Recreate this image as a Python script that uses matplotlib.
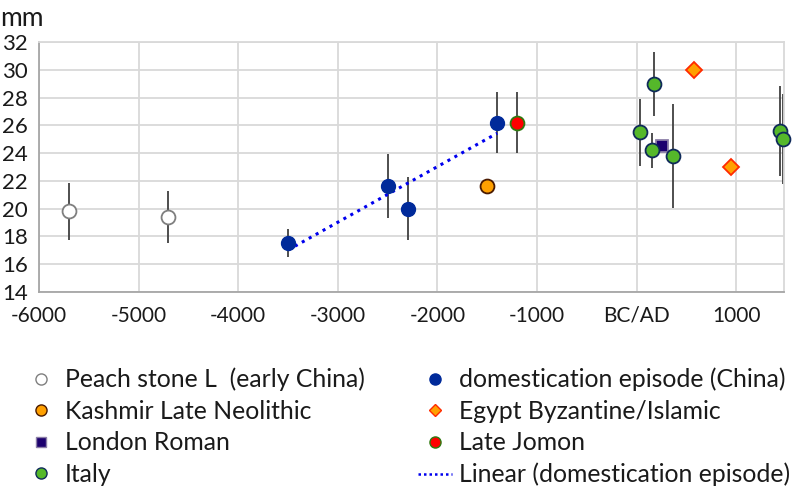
import matplotlib
matplotlib.use('Agg')
import matplotlib.pyplot as plt
from matplotlib.lines import Line2D
import numpy as np

# data (x = year, y = mm, e = +/- error)
peach_x = [-5700, -4700]
peach_y = [19.8, 19.4]
peach_e = [2.05, 1.9]

dom_x = [-3500, -2500, -2300, -1400]
dom_y = [17.5, 21.6, 20.0, 26.2]
dom_e = [1.0, 2.3, 2.25, 2.2]

kashmir_x = [-1500]
kashmir_y = [21.6]

egypt_x = [575, 950]
egypt_y = [30.0, 23.0]

london_x = [250]
london_y = [24.5]

jomon_x = [-1200]
jomon_y = [26.2]
jomon_e = [2.2]

italy_x = [30, 175, 150, 360, 1440, 1470]
italy_y = [25.5, 29.0, 24.2, 23.8, 25.6, 25.0]
italy_e = [2.4, 2.3, 1.25, 3.75, 3.25, 3.25]

xticks = [-6000, -5000, -4000, -3000, -2000, -1000, 0, 1000]
xtick_labels = ['-6000', '-5000', '-4000', '-3000', '-2000', '-1000', 'BC/AD', '1000']
yticks = [14, 16, 18, 20, 22, 24, 26, 28, 30, 32]

FONT = ['Lato', 'DejaVu Sans']
TEXT = '#1a1a1a'
ERR = '#404040'
GRID = '#d9d9d9'

fig = plt.figure(figsize=(7.92, 4.97), dpi=100)
ax = fig.add_axes([0.0492, 0.4125, 0.9408, 0.503])

ax.set_xlim(-6000, 1480)
ax.set_ylim(14, 32)
ax.set_xticks(xticks)
ax.set_xticklabels(xtick_labels, family=FONT, fontsize=15)
ax.set_yticks(yticks)
ax.set_yticklabels([str(v) for v in yticks], family=FONT, fontsize=16)
ax.tick_params(axis='x', length=0, pad=10, colors=TEXT)
ax.tick_params(axis='y', length=0, pad=8, colors=TEXT)
ax.grid(True, color=GRID, lw=1.3)
ax.set_axisbelow(True)
for side in ['top', 'right']:
    ax.spines[side].set_color(GRID)
    ax.spines[side].set_linewidth(1.3)
for side in ['left', 'bottom']:
    ax.spines[side].set_color('#a6a6a6')
    ax.spines[side].set_linewidth(1.3)

ekw = dict(ecolor=ERR, elinewidth=1.3, capsize=0, linestyle='none', zorder=2)

# error bars first
ax.errorbar(peach_x, peach_y, yerr=peach_e, fmt='none', **ekw)
ax.errorbar(dom_x, dom_y, yerr=dom_e, fmt='none', **ekw)
ax.errorbar(jomon_x, jomon_y, yerr=jomon_e, fmt='none', **ekw)
ax.errorbar(italy_x, italy_y, yerr=italy_e, fmt='none', **ekw)

# linear trend of the domestication episode
coef = np.polyfit(dom_x, dom_y, 1)
tx = np.array([min(dom_x), max(dom_x)])
ax.plot(tx, np.polyval(coef, tx), color='#0000ee', lw=2.2, ls=(0, (1, 1.6)), zorder=3)

ax.plot(peach_x, peach_y, 'o', ms=10, mfc='white', mec='#7f7f7f', mew=1.3, ls='none', zorder=4)
ax.plot(dom_x, dom_y, 'o', ms=10, mfc='#002a9a', mec='#002a9a', mew=1, ls='none', zorder=4)
ax.plot(kashmir_x, kashmir_y, 'o', ms=10, mfc='#ffa000', mec='#4a1a00', mew=1.3, ls='none', zorder=4)
ax.plot(egypt_x, egypt_y, 'D', ms=8, mfc='#ffa000', mec='#ff2a00', mew=1.3, ls='none', zorder=4)
ax.plot(london_x, london_y, 's', ms=9, mfc='#1c006e', mec='#8c7fa8', mew=1.3, ls='none', zorder=4)
ax.plot(jomon_x, jomon_y, 'o', ms=10, mfc='#ff0000', mec='#2f7a10', mew=1.3, ls='none', zorder=4)
ax.plot(italy_x, italy_y, 'o', ms=10, mfc='#55b82a', mec='#0f2a5a', mew=1.3, ls='none', zorder=5, clip_on=False)

fig.text(0.0, 0.962, 'mm', family=FONT, fontsize=19, ha='left', va='center', color=TEXT)

# legend
handles = [
    Line2D([], [], marker='o', ms=8, mfc='white', mec='#7f7f7f', mew=1, ls='none'),
    Line2D([], [], marker='o', ms=8, mfc='#ffa000', mec='#4a1a00', mew=1, ls='none'),
    Line2D([], [], marker='s', ms=7.5, mfc='#1c006e', mec='#8c7fa8', mew=1, ls='none'),
    Line2D([], [], marker='o', ms=8, mfc='#55b82a', mec='#0f2a5a', mew=1, ls='none'),
    Line2D([], [], marker='o', ms=8, mfc='#002a9a', mec='#002a9a', mew=1, ls='none'),
    Line2D([], [], marker='D', ms=6.5, mfc='#ffa000', mec='#ff2a00', mew=1, ls='none'),
    Line2D([], [], marker='o', ms=8, mfc='#ff0000', mec='#2f7a10', mew=1, ls='none'),
    Line2D([], [], color='#0000ee', lw=1.8, ls=(0, (1, 1.2))),
]
labels = ['Peach stone L  (early China)', 'Kashmir Late Neolithic', 'London Roman', 'Italy',
          'domestication episode (China)', 'Egypt Byzantine/Islamic', 'Late Jomon',
          'Linear (domestication episode)']
fig.legend(handles, labels, ncol=2, loc='upper left', bbox_to_anchor=(0.0295, 0.26),
           frameon=False, prop={'family': FONT, 'size': 17.8}, handlelength=1.4,
           handletextpad=0.27, labelspacing=0.34, columnspacing=2.15, labelcolor=TEXT,
           borderpad=0, borderaxespad=0)

fig.savefig('out.png', dpi=100)
